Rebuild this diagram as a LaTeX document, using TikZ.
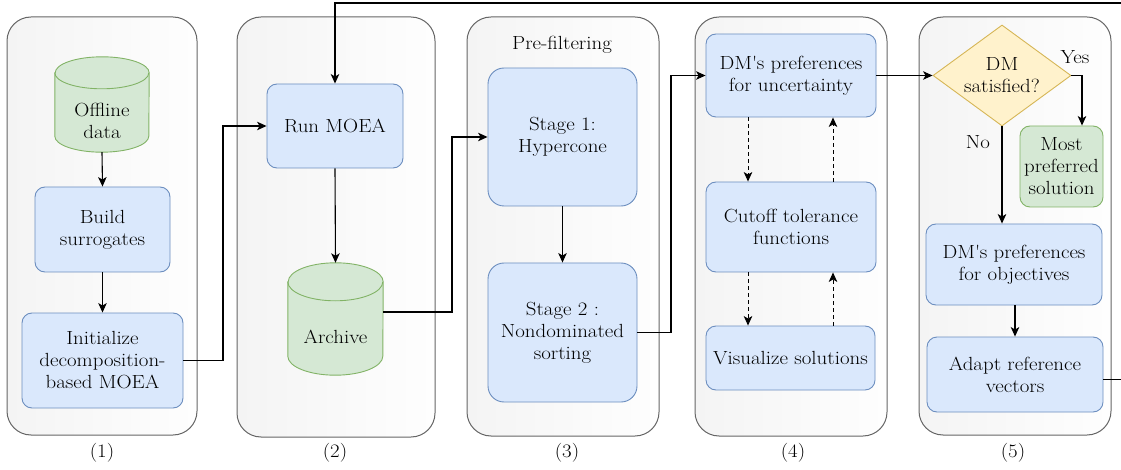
\documentclass[tikz,border=0pt]{standalone}
\usepackage{fontspec}
\setmainfont{Latin Modern Roman}[FakeStretch=1.1]
\usetikzlibrary{arrows.meta,shapes.geometric,calc}

\definecolor{procfill}{HTML}{DAE8FC}
\definecolor{procline}{HTML}{6C8EBF}
\definecolor{datafill}{HTML}{D5E8D4}
\definecolor{dataline}{HTML}{82B366}
\definecolor{askfill}{HTML}{FFF2CC}
\definecolor{askline}{HTML}{D6B656}
\definecolor{panelline}{HTML}{666666}
\definecolor{panelleft}{HTML}{F4F4F4}
\definecolor{panelright}{HTML}{FEFEFE}

% cylinder outline around an (invisible) node: name, half width, ellipse half height
\newcommand\storeshape[3]{%
  \path[fill=datafill,draw=dataline,line width=0.9pt]
    ([yshift=-#3pt]#1.north west) -- ([yshift=#3pt]#1.south west)
    arc[start angle=180,end angle=360,x radius=#2pt,y radius=#3pt]
    -- ([yshift=-#3pt]#1.north east)
    arc[start angle=0,end angle=180,x radius=#2pt,y radius=#3pt] -- cycle;
  \draw[dataline,line width=0.9pt] ([yshift=-#3pt]#1.north west)
    arc[start angle=180,end angle=360,x radius=#2pt,y radius=#3pt];
}

\begin{document}
\begin{tikzpicture}[x=1pt,y=-1pt,
  every node/.style={font=\fontsize{19}{22}\selectfont, align=center, inner sep=0pt},
  panel/.style={draw=panelline, line width=1pt, rounded corners=24pt,
    left color=panelleft, right color=panelright},
  proc/.style={draw=procline, fill=procfill, line width=0.9pt, rounded corners=10pt},
  result/.style={draw=dataline, fill=datafill, line width=0.9pt, rounded corners=10pt},
  store/.style={draw=none},
  decision/.style={diamond, aspect=1.37, draw=askline, fill=askfill, line width=0.9pt},
  flow/.style={draw=black, line width=1.1pt, -{Stealth[length=9.5pt,width=8.5pt,inset=2.5pt]}},
  dflow/.style={flow, dashed, dash pattern=on 4pt off 3pt, line width=1pt},
]
\path[use as bounding box, clip] (0,0) rectangle (1121,470);

% stage panels
\node[panel, minimum width=190pt, minimum height=418pt] (p1) at (102,226) {};
\node[panel, minimum width=198pt, minimum height=420pt] (p2) at (336,227) {};
\node[panel, minimum width=192pt, minimum height=419pt] (p3) at (563,226.5) {};
\node[panel, minimum width=192pt, minimum height=419pt] (p4) at (791,226.5) {};
\node[panel, minimum width=192pt, minimum height=418pt] (p5) at (1015,226) {};

\node (l1) at (102,453) {(1)};
\node (l2) at (335,453) {(2)};
\node (l3) at (567,453) {(3)};
\node (l4) at (793,453) {(4)};
\node (l5) at (1013,453) {(5)};

% (1) setup
\node[store, minimum width=94pt, minimum height=95pt] (off) at (102,104.5) {};
\storeshape{off}{47}{16}
\node (offtxt) at (102,121) {Offline\\data};
\node[proc, minimum width=135pt, minimum height=85pt] (build) at (102.5,229.5) {Build\\surrogates};
\node[proc, minimum width=161pt, minimum height=95pt] (init) at (102.5,360.5) {Initialize\\decomposition-\\based MOEA};

% (2) optimisation
\node[proc, minimum width=136pt, minimum height=84pt] (run) at (335,126) {Run MOEA};
\node[store, minimum width=95pt, minimum height=112pt] (arch) at (335.5,319) {};
\storeshape{arch}{47.5}{19}
\node (archtxt) at (335.5,337) {Archive};

% (3) pre-filtering
\node (pre) at (562,45) {Pre-filtering};
\node[proc, minimum width=149pt, minimum height=138pt, rounded corners=16pt] (s1) at (562.5,137) {Stage 1:\\Hypercone};
\node[proc, minimum width=149pt, minimum height=139pt, rounded corners=16pt] (s2) at (562.5,332.5) {Stage 2 :\\Nondominated\\sorting};

% (4) uncertainty
\node[proc, minimum width=170pt, minimum height=83pt] (dmu) at (791,75.5) {DM\textquotesingle s preferences\\for uncertainty};
\node[proc, minimum width=170pt, minimum height=90pt] (cut) at (791,227) {Cutoff tolerance\\functions};
\node[proc, minimum width=169pt, minimum height=64pt] (vis) at (790.5,358) {Visualize solutions};

% (5) interaction
\node[decision, minimum width=138pt, minimum height=101pt] (dia) at (1002,75.5) {DM\\satisfied?};
\node[result, minimum width=83pt, minimum height=81pt] (most) at (1061.5,166.5) {Most\\preferred\\solution};
\node[proc, minimum width=176pt, minimum height=81pt] (dmo) at (1014,264.5) {DM\textquotesingle s preferences\\for objectives};
\node[proc, minimum width=176pt, minimum height=75pt] (adapt) at (1015,374.5) {Adapt reference\\vectors};
\node (yes) at (1075,57) {Yes};
\node (no) at (978,142) {No};

% connectors
\draw[flow] (off.south) -- (build.north);
\draw[flow] (build.south) -- (init.north);
\coordinate (j1) at (223,0);
\draw[flow] (init.east) -- (init.east -| j1) |- (run.west);
\draw[flow] (run.south) -- (arch.north);
\coordinate (j2) at (452,0);
\draw[flow] ([yshift=7pt]arch.east) -- ([yshift=7pt]arch.east -| j2) |- (s1.west);
\draw[flow] (s1.south) -- (s2.north);
\coordinate (j3) at (671,0);
\draw[flow] (s2.east) -- (s2.east -| j3) |- (dmu.west);

\coordinate (dd) at (748,0);
\coordinate (du) at (833,0);
\draw[dflow] (dmu.south -| dd) -- (cut.north -| dd);
\draw[dflow] (cut.north -| du) -- (dmu.south -| du);
\draw[dflow] (cut.south -| dd) -- (vis.north -| dd);
\draw[dflow] (vis.north -| du) -- (cut.south -| du);

\draw[flow] (dmu.east) -- (dia.west);
\coordinate (jy) at (1082,0);
\draw[flow] (dia.east) -| (jy |- most.north);
\draw[flow] (dia.south) -- (dia.south |- dmo.north);
\draw[flow] (dmo.south -| adapt.north) -- (adapt.north);

% feedback loop back to the optimiser
\coordinate (back) at (1135,3);
\draw[flow] ([yshift=-5pt]adapt.east) -- ([yshift=-5pt]adapt.east -| back) -- (back) -| (run.north);
\end{tikzpicture}
\end{document}
